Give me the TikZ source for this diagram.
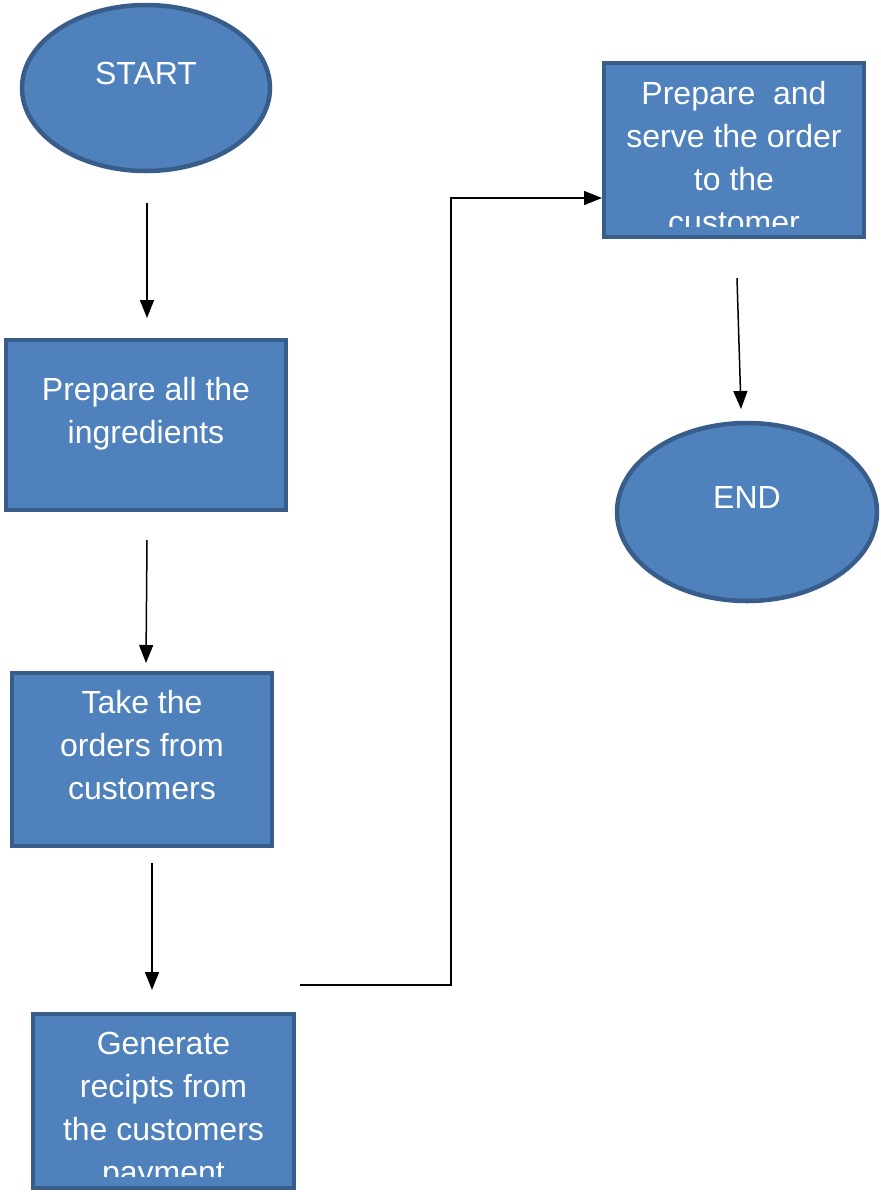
\documentclass[tikz,border=0pt]{standalone}
\usepackage{fontspec}
\setmainfont{Liberation Sans}
\usetikzlibrary{shapes.geometric,arrows.meta}
\definecolor{boxfill}{HTML}{4F81BD}
\definecolor{boxline}{HTML}{385D8A}
\tikzset{
  stepbox/.style={draw=boxline, fill=boxfill, line width=4pt, rectangle, inner sep=0pt},
  terminal/.style={draw=boxline, fill=boxfill, line width=4.5pt, ellipse, inner sep=0pt},
  txt/.style={text=white, align=center, inner sep=0pt, anchor=base, font=\fontsize{32}{43}\selectfont},
  arr/.style={line width=1.5pt, -{Triangle[length=18pt,width=14pt]}},
}
\begin{document}
\begin{tikzpicture}[x=1pt,y=-1pt]
\useasboundingbox (0,0) rectangle (881,1192);
% shapes
\node[terminal, minimum width=248pt, minimum height=166pt] (start) at (146,88) {};
\node[txt] (tstart) at (146,84) {START};
\node[stepbox, minimum width=280pt, minimum height=170pt] (b1) at (146,425) {};
\node[txt] (t1) at (146,443) {Prepare all the\\ingredients};
\node[stepbox, minimum width=260pt, minimum height=173pt] (b2) at (142,759.5) {};
\node[txt] (t2) at (142,799) {Take the\\orders from\\customers};
\node[stepbox, minimum width=261pt, minimum height=174pt] (b3) at (163.5,1101) {};
\begin{scope}
\clip (35,1015) rectangle (292,1176);
\node[txt] (t3) at (163.5,1183) {Generate\\recipts from\\the customers\\payment};
\end{scope}
\node[stepbox, minimum width=260pt, minimum height=174pt] (b4) at (734,150) {};
\begin{scope}
\clip (606,64) rectangle (862,226);
\node[txt] (t4) at (734,233) {Prepare\ \ and\\serve the order\\to the\\customer};
\end{scope}
\node[terminal, minimum width=260pt, minimum height=178pt] (end) at (747,512) {};
\node[txt] (tend) at (747,508) {END};
% connector end points
\coordinate (a1s) at (147,203);
\coordinate (a1e) at (147,318);
\coordinate (a2s) at (147,540);
\coordinate (a2e) at (146,663);
\coordinate (a3s) at (152,863);
\coordinate (a3e) at (152,990);
\coordinate (a4s) at (300,985);
\coordinate (a4a) at (451,985);
\coordinate (a4b) at (451,198);
\coordinate (a4e) at (602,198);
\coordinate (a5s) at (737,278);
\coordinate (a5e) at (741,409);
\draw[arr] (a1s) -- (a1e);
\draw[arr] (a2s) -- (a2e);
\draw[arr] (a3s) -- (a3e);
\draw[arr] (a4s) -- (a4a) -- (a4b) -- (a4e);
\draw[arr] (a5s) -- (a5e);
\end{tikzpicture}
\end{document}
